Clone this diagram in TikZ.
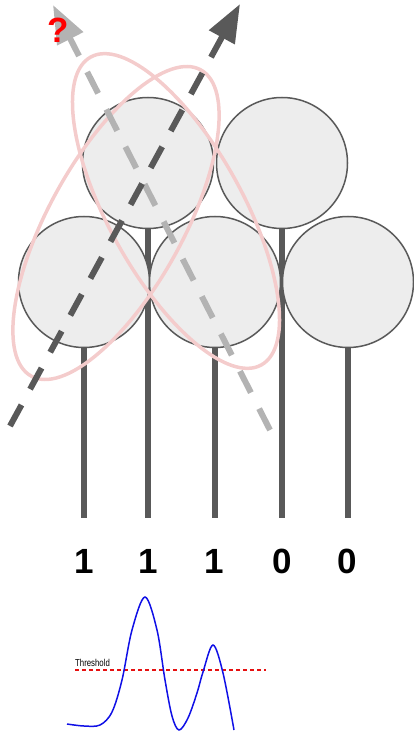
\documentclass[tikz,border=0pt]{standalone}
\usepackage{fontspec}
\setmainfont{Liberation Sans}
\usetikzlibrary{arrows.meta}
\definecolor{ink}{HTML}{595959}
\definecolor{cellfill}{HTML}{EDEDED}
\definecolor{paleray}{HTML}{B3B3B3}
\definecolor{rosering}{HTML}{F4CCCC}
\definecolor{signal}{HTML}{1010E6}
\definecolor{cutoff}{HTML}{E61010}

\begin{document}
\begin{tikzpicture}[x=1pt,y=-1pt,
  neuron/.style={circle, draw=ink, fill=cellfill, line width=1.5pt,
                 minimum size=131pt, inner sep=0pt},
  stem/.style={draw=ink, line width=5.5pt},
  bit/.style={font=\fontsize{35}{35}\selectfont\bfseries, inner sep=0pt},
  ring/.style={draw=rosering, line width=3.5pt},
  ray/.style={line width=6pt, dash pattern=on 24pt off 18pt,
              -{Triangle[length=38pt,width=28pt]}},
]
\useasboundingbox (0,0) rectangle (413,735);

% stems (behind the cells)
\coordinate (b1) at (84,518);
\coordinate (b2) at (148,518);
\coordinate (b3) at (215,518);
\coordinate (b4) at (282,518);
\coordinate (b5) at (348,518);
\draw[stem] (84,282) -- (b1);
\draw[stem] (148,163) -- (b2);
\draw[stem] (215,282) -- (b3);
\draw[stem] (282,163) -- (b4);
\draw[stem] (348,282) -- (b5);

% cells
\node[neuron] (c2) at (148,163) {};
\node[neuron] (c4) at (282,163) {};
\node[neuron] (c1) at (84,282) {};
\node[neuron] (c3) at (215,282) {};
\node[neuron] (c5) at (348,282) {};

% decision regions
\draw[ring, rotate around={-61:(176,211)}] (176,211) ellipse [x radius=176pt, y radius=67pt];
\draw[ring, rotate around={61:(116,223)}] (116,223) ellipse [x radius=175pt, y radius=67pt];

% directions
\coordinate (p0) at (270,430);
\coordinate (p1) at (53,5);
\coordinate (q0) at (10,426);
\coordinate (q1) at (240,4);
\draw[ray, draw=paleray] (p0) -- (p1);
\draw[ray, draw=ink] (q0) -- (q1);
\node[text=red, font=\fontsize{35}{35}\selectfont\bfseries, inner sep=0pt] (qm) at (58.5,30) {?};

% output bits
\node[bit] (l1) at (84,561) {1};
\node[bit] (l2) at (148,561) {1};
\node[bit] (l3) at (214,561) {1};
\node[bit] (l4) at (282,561) {0};
\node[bit] (l5) at (347,561) {0};

% activation trace with threshold
\coordinate (t0) at (75,670);
\coordinate (t1) at (266,670);
\draw[cutoff, line width=1.2pt, dash pattern=on 4pt off 3pt] (t0) -- (t1);
\node[anchor=south west, inner sep=0pt, font=\fontsize{10}{10}\selectfont] (th) at (75,666.5) {\scalebox{0.78}[1]{Threshold}};
\draw[signal, line width=1.5pt] plot[smooth, tension=0.55] coordinates {
  (67,724) (84,726) (100,725) (112,712) (122,680) (132,630) (145,597)
  (157,630) (165,680) (172,716) (179,730) (188,718) (197,693) (203,672)
  (213,645) (223,673) (234,730)};
\end{tikzpicture}
\end{document}
